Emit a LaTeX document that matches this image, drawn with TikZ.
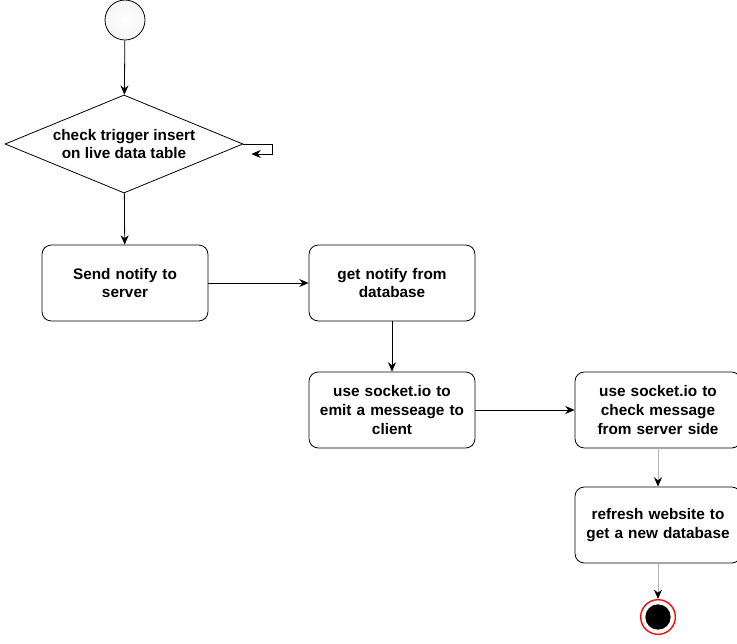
\documentclass[tikz,border=0pt]{standalone}
\usepackage{fontspec}
\setmainfont{Liberation Sans}
\usetikzlibrary{arrows.meta,shapes.geometric,positioning,calc}
\tikzset{x=0.75pt, y=-0.75pt, % one unit is one pixel of the layout
        every node/.style={font=\fontsize{11.5}{14}\selectfont\bfseries},
        action/.style={ % Sets the properties for each activity box
            draw, rounded corners=7pt, semithick,
            minimum width=124.5pt, minimum height=57pt,
            align=center, text width=116pt},
        decision/.style={ % The check node
            draw, diamond, semithick, inner sep=0pt, aspect=2.43,
            minimum width=178.5pt, minimum height=73.5pt, align=center},
        startnode/.style={
            circle, draw, semithick, minimum size=30pt, inner color=white, outer color=gray!8},
        endnode/.style={
            circle, draw=red, line width=1pt, fill=white, minimum size=26pt,
            path picture={\fill[black] (path picture bounding box.center) circle (9.5pt);}},
        flow/.style={ % Sets the properties for each transition
            draw, -{Stealth[length=7pt,width=6pt,black]}, semithick}
        }

\begin{document}
\begin{tikzpicture}
    \useasboundingbox (0,0) rectangle (737,643);

    \node[startnode] (start) at (125,20) {};
    \node[decision] (check) at (124,144) {check trigger insert\\on live data table};
    \node[action] (send) at (125,283) {Send notify to\\server};
    \node[action] (get) at (392,283) {get notify from\\database};
    \node[action] (emit) at (392,410) {use socket.io to\\emit a messeage to\\client};
    \node[action] (recv) at (658,410) {use socket.io to\\check message\\from server side};
    \node[action] (refresh) at (658,525) {refresh website to\\get a new database};
    \node[endnode] (stop) at (658,617) {};

    \draw[flow] (start) -- (check);
    \draw[flow] (check.east) -- ++(29,0) -- ++(0,10) -- ++(-21,0);
    \draw[flow] (check) -- (send);
    \draw[flow] (send) -- (get);
    \draw[flow] (get) -- (emit);
    \draw[flow] (emit) -- (recv);
    \draw[flow, gray!60] (recv) -- (refresh);
    \draw[flow, gray!60] (refresh) -- (stop);
\end{tikzpicture}
\end{document}
